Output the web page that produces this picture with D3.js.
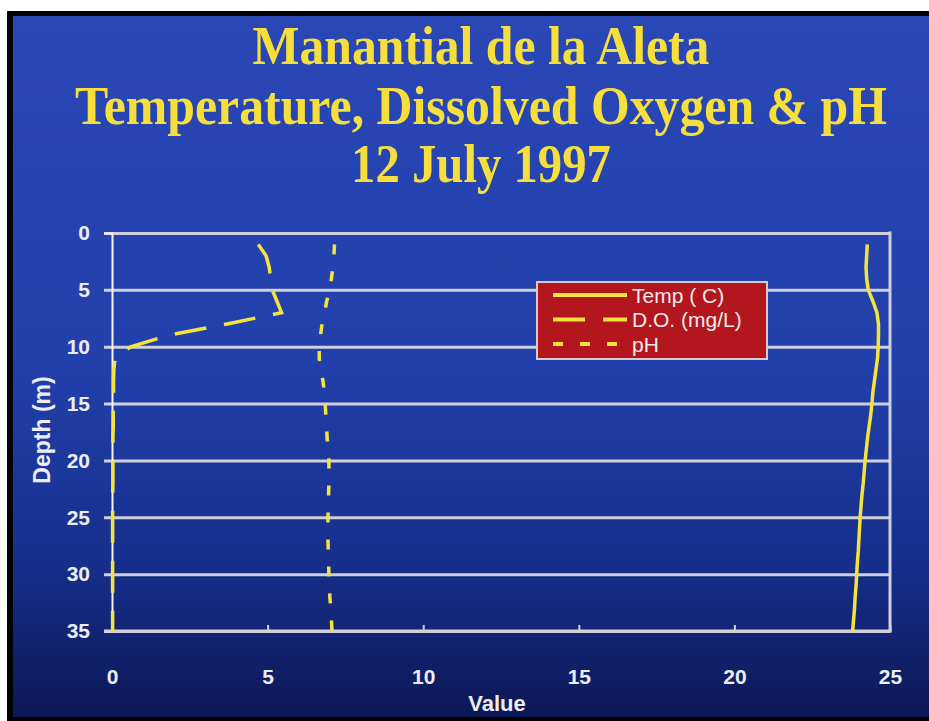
<!DOCTYPE html>
<html>
<head>
<meta charset="utf-8">
<script src="https://cdn.jsdelivr.net/npm/d3@7"></script>
<style>
  html, body { margin: 0; padding: 0; background: #fff; }
  svg { display: block; }
</style>
</head>
<body>
<svg id="chart" width="929" height="721"></svg>
<script>
// data (depth in m)
const titleLines = ["Manantial de la Aleta", "Temperature, Dissolved Oxygen & pH", "12 July 1997"];
const depths = [1, 2, 3, 4, 5, 6, 7, 8, 9, 10, 11, 12, 13, 14, 15, 16, 17, 18, 19, 20,
  21, 22, 23, 24, 25, 26, 27, 28, 29, 30, 31, 32, 33, 34, 35];
const tempVals = [24.27, 24.25, 24.23, 24.25, 24.3, 24.45, 24.58, 24.63, 24.63, 24.62,
  24.6, 24.55, 24.5, 24.45, 24.42, 24.38, 24.33, 24.28, 24.24, 24.2,
  24.17, 24.14, 24.1, 24.07, 24.04, 24.02, 24.0, 23.98, 23.95, 23.93,
  23.91, 23.88, 23.86, 23.83, 23.8];
const doVals = [4.7, 4.95, 5.05, 5.1, 5.15, 5.3, 5.45, 3.7, 1.8, 0.6,
  0.1, 0.06, 0.05, 0.05, 0.04, 0.04, 0.04, 0.03, 0.03, 0.03,
  0.03, 0.03, 0.02, 0.02, 0.02, 0.02, 0.02, 0.02, 0.02, 0.02,
  0.02, 0.02, 0.02, 0.02, 0.02];
const phVals = [7.15, 7.13, 7.1, 7.05, 7.0, 6.9, 6.83, 6.75, 6.7, 6.66,
  6.66, 6.7, 6.78, 6.82, 6.85, 6.87, 6.9, 6.91, 6.95, 6.97,
  6.97, 6.97, 6.96, 6.95, 6.94, 6.94, 6.94, 6.95, 6.96, 6.97,
  6.99, 7.0, 7.03, 7.05, 7.07];
const seriesNames = ["Temp ( C)", "D.O. (mg/L)", "pH"];
const xTicks = [0, 5, 10, 15, 20, 25];
const yTicks = [0, 5, 10, 15, 20, 25, 30, 35];

const W = 929, H = 721;
const plotL = 112, plotR = 890, plotT = 233, plotB = 631;
const yellow = "#f4e33c";
const gridColor = "#cfd0dc";
const labelColor = "#ececf2";
const sans = "'Liberation Sans', Arial, sans-serif";

const svg = d3.select("#chart");

// slide background + black frame
const defs = svg.append("defs");
const grad = defs.append("linearGradient").attr("id", "bg")
  .attr("x1", 0).attr("y1", 0).attr("x2", 0).attr("y2", 1);
grad.append("stop").attr("offset", "0%").attr("stop-color", "#2a47b6");
grad.append("stop").attr("offset", "50%").attr("stop-color", "#2140ab");
grad.append("stop").attr("offset", "78%").attr("stop-color", "#172f8c");
grad.append("stop").attr("offset", "100%").attr("stop-color", "#0c1855");

svg.append("rect").attr("x", 7).attr("y", 11).attr("width", W - 7).attr("height", H - 11).attr("fill", "#000");
svg.append("rect").attr("x", 13).attr("y", 16).attr("width", W - 13).attr("height", 701).attr("fill", "url(#bg)");

// title - the slide font is a condensed bold serif, so squeeze it horizontally
const titleY = [64, 124, 182];
const titleW = [457, 812, 260];
svg.append("g").selectAll("text")
  .data(titleLines)
  .join("text")
  .attr("text-anchor", "middle")
  .style("font-family", "'Liberation Serif', 'Times New Roman', serif")
  .style("font-weight", "bold")
  .style("font-size", "54px")
  .style("fill", "#f6df3c")
  .text(d => d)
  .attr("transform", function(d, i) {
    const sx = titleW[i] / this.getComputedTextLength();
    return `translate(481,${titleY[i]}) scale(${sx},1)`;
  });

const x = d3.scaleLinear().domain([0, 25]).range([plotL, plotR]);
const y = d3.scaleLinear().domain([0, 35]).range([plotT, plotB]);

// grid lines (extend a little left of the axis)
const grid = svg.append("g").attr("transform", `translate(${plotR},0)`)
  .call(d3.axisLeft(y).tickValues(yTicks).tickSize(plotR - plotL + 8).tickFormat(""));
grid.select(".domain").remove();
grid.selectAll("line").attr("stroke", gridColor).attr("stroke-width", 3);

// right border
svg.append("line")
  .attr("x1", x(25)).attr("x2", x(25)).attr("y1", y(0) - 1.5).attr("y2", y(35) + 1.5)
  .attr("stroke", gridColor).attr("stroke-width", 3);

// y axis
const yAxis = svg.append("g").attr("transform", `translate(${plotL},0)`)
  .call(d3.axisLeft(y).tickValues(yTicks).tickSize(8).tickPadding(14));
yAxis.select(".domain").attr("stroke", "#f4f4f8").attr("stroke-width", 2);
yAxis.selectAll(".tick line").remove();
yAxis.selectAll("text")
  .style("font-family", sans)
  .style("font-weight", "bold").style("font-size", "21px").style("fill", labelColor);

// x axis: small ticks pointing up, labels well below
const xAxis = svg.append("g").attr("transform", `translate(0,${plotB})`)
  .call(d3.axisBottom(x).tickValues(xTicks).tickSizeInner(-6).tickSizeOuter(0));
xAxis.select(".domain").attr("stroke", gridColor).attr("stroke-width", 3)
  .attr("d", `M${plotL - 8},0H${plotR + 1.5}`);
xAxis.selectAll(".tick line").attr("stroke", gridColor).attr("stroke-width", 2);
xAxis.selectAll("text")
  .attr("y", 53).attr("dy", 0)
  .style("font-family", sans)
  .style("font-weight", "bold").style("font-size", "21px").style("fill", labelColor);

// axis titles
svg.append("text")
  .attr("x", (plotL + plotR) / 2 - 4).attr("y", 711)
  .attr("text-anchor", "middle")
  .style("font-family", sans)
  .style("font-weight", "bold").style("font-size", "22px").style("fill", labelColor)
  .text("Value");
svg.append("text")
  .attr("transform", `translate(50,${(plotT + plotB) / 2 - 2}) rotate(-90)`)
  .attr("text-anchor", "middle")
  .style("font-family", sans)
  .style("font-weight", "bold").style("font-size", "23px").style("fill", labelColor)
  .text("Depth (m)");

// series
const dashes = ["none", "32,18", "10,17"];
const series = [tempVals, doVals, phVals];
const line = d3.line().x(d => x(d[0])).y(d => y(d[1]));

svg.append("g").selectAll("path")
  .data(series)
  .join("path")
  .attr("d", vals => line(vals.map((v, i) => [v, depths[i]])))
  .attr("fill", "none")
  .attr("stroke", yellow)
  .attr("stroke-width", 3.5)
  .attr("stroke-dasharray", (d, i) => dashes[i]);

// legend
const legend = svg.append("g").attr("transform", "translate(537,282)");
legend.append("rect")
  .attr("width", 230).attr("height", 77)
  .attr("fill", "#b3161d").attr("stroke", "#d9c8cc").attr("stroke-width", 2);
const rows = legend.selectAll("g.row")
  .data(seriesNames)
  .join("g")
  .attr("class", "row")
  .attr("transform", (d, i) => `translate(0,${13 + i * 24.5})`);
rows.append("line")
  .attr("x1", 16).attr("x2", 90)
  .attr("stroke", yellow).attr("stroke-width", 4)
  .attr("stroke-dasharray", (d, i) => dashes[i]);
rows.append("text")
  .attr("x", 95).attr("dy", "0.36em")
  .style("font-family", sans)
  .style("font-size", "21px").style("fill", "#eeeaec")
  .text(d => d);
</script>
</body>
</html>
